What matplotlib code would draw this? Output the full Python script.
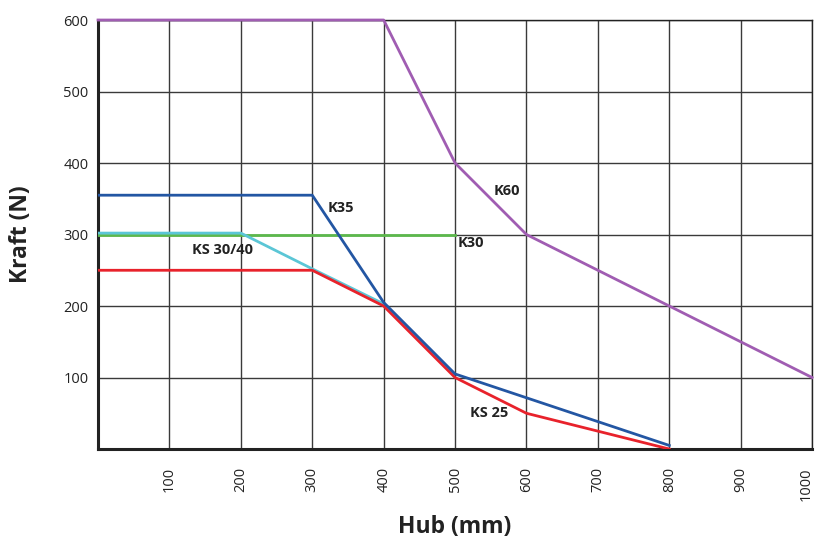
import matplotlib
matplotlib.use("Agg")
import matplotlib.pyplot as plt
import matplotlib.transforms as mtransforms

plt.rcParams['font.family'] = ['Open Sans', 'DejaVu Sans']

# Daten (Hub in mm, Kraft in N)
k60_x = [0, 400, 500, 600, 800, 1000]
k60_y = [600, 600, 400, 300, 200, 100]
k35_x = [0, 300, 400, 500, 800]
k35_y = [355, 355, 205, 105, 5]
k30_x = [0, 500]
k30_y = [300, 300]
ks3040_x = [0, 200, 300, 400]
ks3040_y = [302, 302, 252, 203]
ks25_x = [0, 300, 400, 500, 600, 700, 800]
ks25_y = [250, 250, 200, 100, 50, 25, 0]

x_ticks = [100, 200, 300, 400, 500, 600, 700, 800, 900, 1000]
y_ticks = [100, 200, 300, 400, 500, 600]

fig = plt.figure(figsize=(8.17, 5.41), dpi=100)
ax = fig.add_axes([0.12, 0.170, 0.874, 0.793])

# grid
for xv in x_ticks:
    ax.axvline(xv, color='#3a3a3a', lw=1.0, zorder=1)
for yv in y_ticks:
    ax.axhline(yv, color='#3a3a3a', lw=1.0, zorder=1)

lw = 2.0
ax.plot(k30_x, k30_y, color='#5cb84c', lw=lw, zorder=3)
ax.plot(ks3040_x, ks3040_y, color='#5bc6d6', lw=lw, zorder=4)
ax.plot(ks25_x, ks25_y, color='#e8222b', lw=lw, zorder=5)
ax.plot(k35_x, k35_y, color='#2356a3', lw=lw, zorder=6)
ax.plot(k60_x, k60_y, color='#a05db2', lw=lw, zorder=7, clip_on=False)

lab = dict(fontsize=10.5, fontweight='bold', color='#222222', va='center', zorder=8)
ax.text(322, 337, 'K35', **lab)
ax.text(503, 288, 'K30', **lab)
ax.text(554, 361, 'K60', **lab)
ax.text(132, 278, 'KS 30/40', **lab)
ax.text(521, 50, 'KS 25', **lab)

ax.set_xlim(0, 1000)
ax.set_ylim(0, 600)
ax.set_xticks(x_ticks)
ax.set_yticks(y_ticks)
ax.set_xticklabels([str(v) for v in x_ticks], rotation=90, fontsize=10.5, color='#222222')
ax.set_yticklabels([str(v) for v in y_ticks], fontsize=10.5, color='#222222')
ax.tick_params(axis='x', length=0, pad=13)
ax.tick_params(axis='y', length=0, pad=7)

# last label sits at the figure edge, nudge it a bit inwards
last = ax.get_xticklabels()[-1]
last.set_transform(last.get_transform() +
                   mtransforms.ScaledTranslation(-4 / 72, 0, fig.dpi_scale_trans))

for s in ['top', 'right']:
    ax.spines[s].set_linewidth(1.0)
    ax.spines[s].set_color('#222222')
for s in ['left', 'bottom']:
    ax.spines[s].set_linewidth(2.2)
    ax.spines[s].set_color('#222222')

fig.text(0.557, 0.026, 'Hub (mm)', ha='center', va='center', fontsize=16.5,
         fontweight='bold', color='#222222')
fig.text(0.026, 0.567, 'Kraft (N)', ha='center', va='center', rotation=90,
         fontsize=16.5, fontweight='bold', color='#222222')

fig.savefig('out.png', dpi=100)
